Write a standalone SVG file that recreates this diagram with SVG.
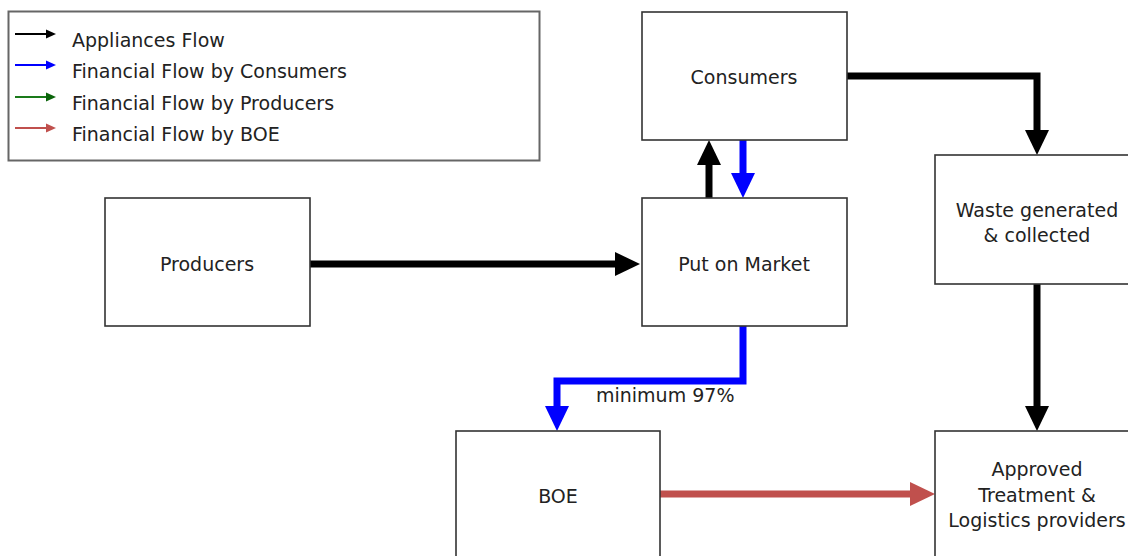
<svg xmlns="http://www.w3.org/2000/svg" width="1128" height="556" viewBox="0 0 1128 556">
<style>
.box{fill:#fff;stroke:#333;stroke-width:1.6}
.t{font-family:"DejaVu Sans",Verdana,sans-serif;font-size:19px;fill:#222;text-anchor:middle}
.lt{font-family:"DejaVu Sans",Verdana,sans-serif;font-size:19px;fill:#222}
.c{fill:none;stroke-width:7}
.lg{fill:none;stroke-width:2}
</style>
<rect width="1128" height="556" fill="#fff"/>
<g id="legend">
<rect x="8.5" y="11.5" width="531" height="149" fill="#fff" stroke="#666" stroke-width="2"/>
<line class="lg" x1="15" y1="34" x2="50" y2="34" stroke="#000"/><polygon points="46,29.5 56,34 46,38.5" fill="#000"/>
<line class="lg" x1="15" y1="65" x2="50" y2="65" stroke="#0000ff"/><polygon points="46,60.5 56,65 46,69.5" fill="#0000ff"/>
<line class="lg" x1="15" y1="97" x2="50" y2="97" stroke="#1a7a1a"/><polygon points="46,92.5 56,97 46,101.5" fill="#0a640a"/>
<line class="lg" x1="15" y1="128" x2="50" y2="128" stroke="#c0504d"/><polygon points="46,123.5 56,128 46,132.5" fill="#c0504d"/>
<text class="lt" x="72" y="47">Appliances Flow</text>
<text class="lt" x="72" y="78">Financial Flow by Consumers</text>
<text class="lt" x="72" y="110">Financial Flow by Producers</text>
<text class="lt" x="72" y="141">Financial Flow by BOE</text>
</g>
<g id="connectors">
<path class="c" stroke="#000" d="M310,264 H618"/><polygon points="615,252 640,264 615,276" fill="#000"/>
<path class="c" stroke="#000" d="M709,198 V162"/><polygon points="697,165 709,140 721,165" fill="#000"/>
<path class="c" stroke="#0000ff" d="M743,140 V176"/><polygon points="731,173 743,198 755,173" fill="#0000ff"/>
<path class="c" stroke="#000" d="M847,76 H1037 V133"/><polygon points="1025,130 1037,155 1049,130" fill="#000"/>
<path class="c" stroke="#000" d="M1037,284 V409"/><polygon points="1025,406 1037,431 1049,406" fill="#000"/>
<path class="c" stroke="#0000ff" d="M743,326 V381 H557 V409"/><polygon points="545,406 557,431 569,406" fill="#0000ff"/>
<path class="c" stroke="#c0504d" d="M660,494 H913"/><polygon points="910,482 935,494 910,506" fill="#c0504d"/>
<text class="lt" x="596" y="402">minimum 97%</text>
</g>
<g id="consumers"><rect class="box" x="642" y="12" width="205" height="128"/><text class="t" x="744" y="84">Consumers</text></g>
<g id="put-on-market"><rect class="box" x="642" y="198" width="205" height="128"/><text class="t" x="744" y="271">Put on Market</text></g>
<g id="producers"><rect class="box" x="105" y="198" width="205" height="128"/><text class="t" x="207" y="271">Producers</text></g>
<g id="waste"><rect class="box" x="935" y="155" width="205" height="129"/><text class="t" x="1037" y="217">Waste generated</text><text class="t" x="1037" y="242">&amp; collected</text></g>
<g id="boe"><rect class="box" x="456" y="431" width="204" height="140"/><text class="t" x="558" y="503">BOE</text></g>
<g id="approved"><rect class="box" x="935" y="431" width="205" height="140"/><text class="t" x="1037" y="476">Approved</text><text class="t" x="1037" y="502">Treatment &amp;</text><text class="t" x="1037" y="527">Logistics providers</text></g>
</svg>
